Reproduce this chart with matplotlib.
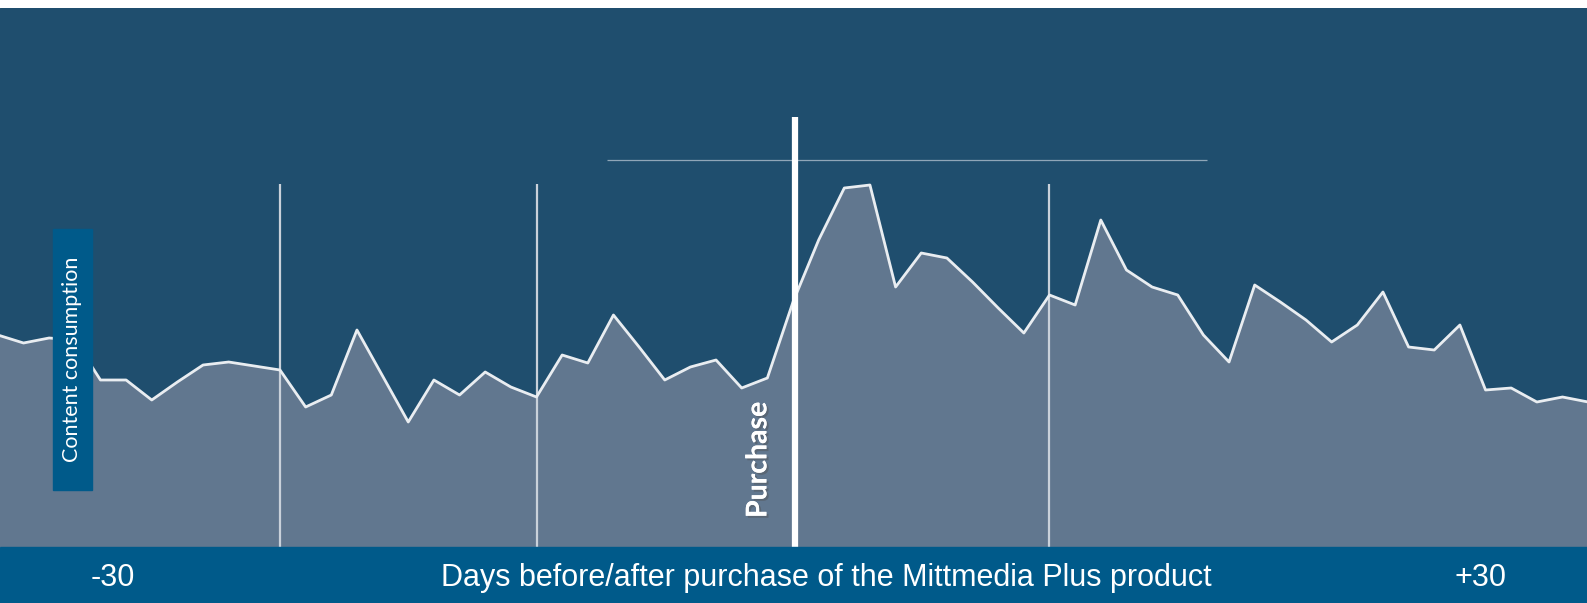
import numpy as np
import matplotlib.pyplot as plt
from matplotlib.patches import Rectangle
import matplotlib.patheffects as pe

# days relative to the purchase and the consumption index
days = list(range(-31, 32))
consumption = [
    212, 204, 209, 207, 167, 167, 147, 165, 182, 185, 181, 177,
    140, 152, 217, 171, 125, 167, 152, 175, 160, 150, 192, 184,
    232, 200, 167, 180, 187, 159, 169, 245, 307, 359, 362, 260,
    294, 289, 265, 239, 214, 252, 242, 327, 277, 260, 252, 212,
    185, 262, 245, 227, 205, 222, 255, 200, 197, 222, 157, 159,
    145, 150, 145,
]
guide_days = [-20, -10, 10]
purchase_day = 0

x_label = "Days before/after purchase of the Mittmedia Plus product"
y_label = "Content consumption"
left_tick, right_tick = "-30", "+30"

bg = "#1f4e6e"
fill = "#61778f"
band = "#005a8a"

W, H = 1587, 603
fig = plt.figure(figsize=(W / 100, H / 100), dpi=100)
fig.patch.set_facecolor("white")

top_px, bottom_px = 8, 547
zero_px = 793
ax = fig.add_axes([0, (H - bottom_px) / H, 1, (bottom_px - top_px) / H])
ax.set_facecolor(bg)
px_per_day = 25.65
ax.set_xlim(-zero_px / px_per_day, (W - zero_px) / px_per_day)
ax.set_ylim(0, bottom_px - top_px)
ax.axis("off")
ax.add_patch(Rectangle((0, 0), 1, 1, transform=ax.transAxes, color=bg, zorder=0))

ax.fill_between(days, consumption, 0, color=fill, zorder=1)
ax.plot(days, consumption, color="#e9edf1", lw=2.0, zorder=3)

ax.vlines(guide_days, 0, bottom_px - 184, color="#c9d1da", lw=1.6, zorder=2)
ax.vlines(purchase_day + 0.06, 0, bottom_px - 117, color="white", lw=4.5, zorder=4)
ax.hlines(bottom_px - 160, (607 - zero_px) / px_per_day, (1207 - zero_px) / px_per_day,
          color="#8fa6b8", lw=0.9, zorder=2)

ax.text(-1.35, 29, "Purchase", rotation=90, color="white", fontsize=20.5,
        fontweight="bold", family="Lato", ha="center", va="bottom", zorder=5,
        path_effects=[pe.withSimplePatchShadow(offset=(1.5, -1.5), alpha=0.4),
                      pe.Normal()])

# bottom band with axis texts
fig.patches.append(Rectangle((0, 0), 1, (H - bottom_px) / H, transform=fig.transFigure,
                             color=band, zorder=0))
ty = 1 - 578 / H
fig.text(113 / W, ty, left_tick, color="white", fontsize=22, family="Liberation Sans",
         ha="center", va="center")
fig.text(826 / W, ty, x_label, color="white", fontsize=22, family="Liberation Sans",
         ha="center", va="center")
fig.text(1480 / W, ty, right_tick, color="white", fontsize=22, family="Liberation Sans",
         ha="center", va="center")

# left label box
bx0, bx1, by0, by1 = 53, 92, 229, 490
fig.patches.append(Rectangle((bx0 / W, 1 - by1 / H), (bx1 - bx0) / W, (by1 - by0) / H,
                             transform=fig.transFigure, color=band, zorder=5))
fig.text((bx0 + bx1) / 2 / W, 1 - (by0 + by1) / 2 / H, y_label, rotation=90,
         color="white", fontsize=15.5, family="Lato", ha="center", va="center", zorder=6)

fig.savefig("out.png", dpi=100, facecolor=fig.get_facecolor())
